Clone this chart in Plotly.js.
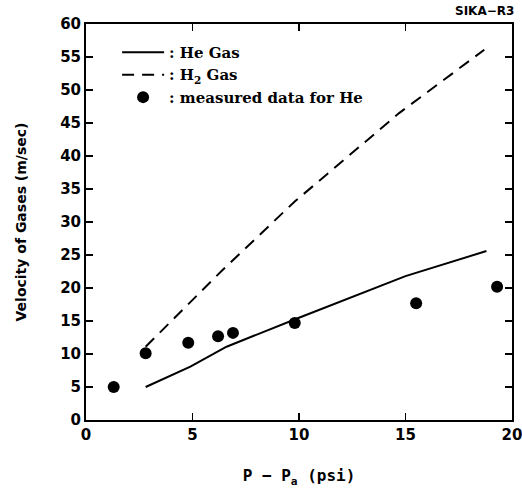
<!DOCTYPE html>
<html>
<head>
<script src="https://cdn.plot.ly/plotly-3.0.1.min.js"></script>
<style>body{margin:0;background:#fff}</style>
</head>
<body>
<div id="chart" style="width:522px;height:491px"></div>
<script>
// He Gas (theory, solid line)
const heX = [2.8, 4.9, 6.6, 10.0, 15.0, 18.8];
const heY = [5.0, 8.1, 11.1, 15.5, 21.8, 25.6];
// H2 Gas (theory, dashed line)
const h2X = [2.8, 6.4, 9.8, 14.7, 18.7];
const h2Y = [11.1, 22.7, 33.1, 46.5, 56.1];
// measured data for He
const mX = [1.3, 2.8, 4.8, 6.2, 6.9, 9.8, 15.5, 19.3];
const mY = [5.0, 10.1, 11.7, 12.7, 13.2, 14.7, 17.7, 20.2];
const xTicks = [0, 5, 10, 15, 20];
const yTicks = [0, 5, 10, 15, 20, 25, 30, 35, 40, 45, 50, 55, 60];

const traces = [
  {x: heX, y: heY, mode: 'lines', name: ': He Gas', line: {color: '#000', width: 2}},
  {x: h2X, y: h2Y, mode: 'lines', name: ': H<sub>2</sub> Gas', line: {color: '#000', width: 2, dash: '12px,8px'}},
  {x: mX, y: mY, mode: 'markers', name: ': measured data for He', marker: {color: '#000', size: 12}}
];

const axisCommon = {
  showgrid: false, zeroline: false, showline: true, linecolor: '#000', linewidth: 2,
  mirror: 'ticks', ticks: 'inside', ticklen: 7, tickwidth: 1.5, tickcolor: '#000',
  ticklabeloverflow: 'allow',
  tickfont: {family: 'DejaVu Sans', size: 15, color: '#000', weight: 'bold'}
};

const layout = {
  width: 522, height: 491,
  margin: {l: 86, r: 10, t: 24, b: 71},
  paper_bgcolor: '#fff', plot_bgcolor: '#fff',
  xaxis: Object.assign({}, axisCommon, {
    range: [0, 20], tickvals: xTicks, ticktext: xTicks.map(String),
    title: {text: 'P − P<sub>a</sub> (psi)', font: {family: 'DejaVu Sans Mono', size: 16, color: '#000', weight: 'bold'}, standoff: 27}
  }),
  yaxis: Object.assign({}, axisCommon, {
    range: [0, 60], tickvals: yTicks, ticktext: yTicks.map(String),
    title: {text: 'Velocity of Gases (m/sec)', font: {family: 'DejaVu Sans', size: 14, color: '#000', weight: 'bold'}, standoff: 30}
  }),
  showlegend: true,
  legend: {
    x: 0.073, y: 0.97, xanchor: 'left', yanchor: 'top',
    bgcolor: 'rgba(0,0,0,0)', borderwidth: 0,
    font: {family: 'DejaVu Serif', size: 15, color: '#000', weight: 'bold'},
    tracegroupgap: 0, itemwidth: 42
  },
  annotations: [
    {text: 'SIKA−R3', xref: 'paper', yref: 'paper', x: 1, y: 1, xanchor: 'right', yanchor: 'bottom',
     xshift: 4, yshift: 4, showarrow: false, font: {family: 'DejaVu Sans', size: 12, color: '#000', weight: 'bold'}}
  ]
};

Plotly.newPlot('chart', traces, layout, {displayModeBar: false, staticPlot: true});
</script>
</body>
</html>
